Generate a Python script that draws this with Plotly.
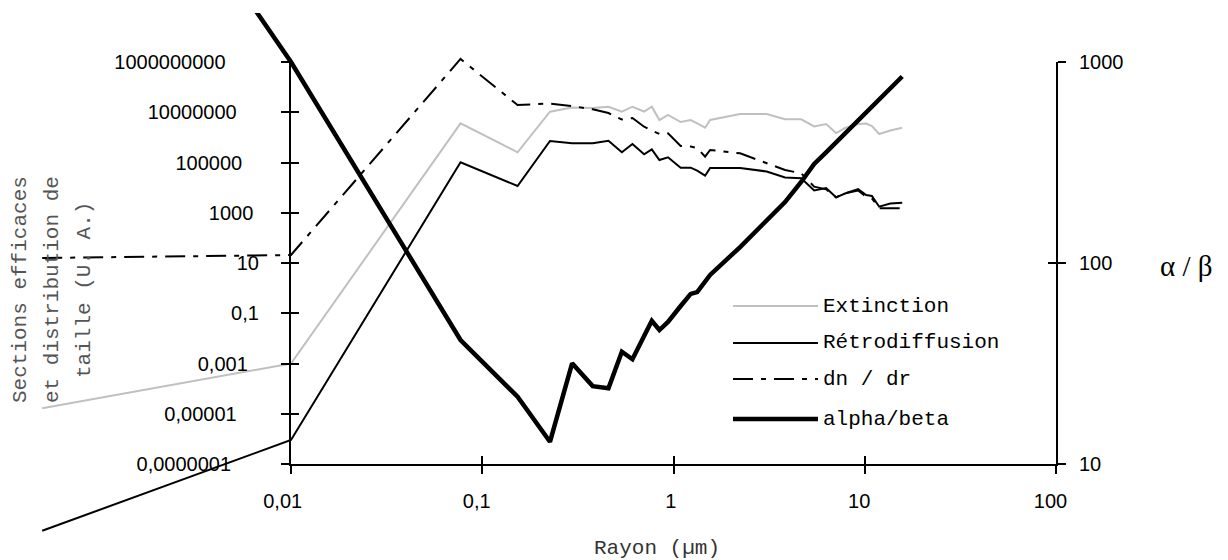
import plotly.graph_objects as go

# Rayon (µm) shared by all series
rayon = [0.0005, 0.01, 0.077, 0.153, 0.226, 0.295, 0.378, 0.457, 0.537, 0.61,
         0.702, 0.77, 0.844, 0.936, 1.09, 1.23, 1.33, 1.463, 1.554, 2.23,
         3.07, 3.83, 4.65, 5.44, 6.28, 7.08, 7.89, 9.23, 10.17, 10.9,
         11.9, 13.6, 15.7]

extinction = [1.65e-5, 1e-3, 3.63e6, 2.55e5, 1.05e7, 1.55e7, 1.48e7, 1.66e7, 1.05e7, 1.66e7,
              1.07e7, 1.66e7, 4.91e6, 7.78e6, 4.09e6, 4.91e6, 3.63e6, 2.43e6, 4.91e6, 8.51e6,
              8.51e6, 5.24e6, 5.24e6, 2.71e6, 3.41e6, 1.49e6, 2.36e6, 3.41e6, 3.56e6, 2.84e6,
              1.36e6, 1.88e6, 2.43e6]

retrodiffusion = [2.2e-10, 9.0e-7, 1.02e5, 1.16e4, 7.18e5, 5.81e5, 5.81e5, 7.38e5, 2.55e5, 5.45e5,
                  2.12e5, 3.35e5, 1.26e5, 1.61e5, 6.21e4, 6.21e4, 4.72e4, 2.98e4, 6.04e4, 6.04e4,
                  4.39e4, 2.53e4, 2.35e4, 7.69e3, 9.66e3, 4.12e3, 5.83e3, 8.81e3, 5.08e3, 4.64e3,
                  1.74e3, 2.33e3, 2.51e3]

dn_dr = [15.8, 20.8, 1.32e9, 1.94e7, 2.23e7, 1.77e7, 1.31e7, 9.33e6, 5.14e6, 5.90e6,
         2.66e6, 1.97e6, 1.36e6, 1.45e6, 4.54e5, 4.34e5, 3.78e5, 1.70e5, 3.15e5, 2.32e5,
         9.29e4, 5.02e4, 3.72e4, 1.09e4, 8.57e3, 4.12e3, 5.94e3, 7.69e3, 4.35e3, 3.76e3,
         1.50e3, 1.50e3, 1.50e3]

alpha_beta = [6.3e4, 1000, 41.4, 21.6, 12.9, 31.7, 24.4, 23.8, 36.2, 33.2,
              43.3, 51.6, 46.4, 50.9, 61.1, 70.2, 71.7, 81.4, 87.2, 120,
              164, 201, 253, 311, 355, 398, 442, 512, 561, 601,
              652, 739, 847]

x_ticks = [0.01, 0.1, 1, 10, 100]
x_labels = ["0,01", "0,1", "1", "10", "100"]
left_ticks = [1e-7, 1e-5, 1e-3, 0.1, 10, 1000, 1e5, 1e7, 1e9]
left_labels = ["0,0000001", "0,00001", "0,001", "0,1", "10", "1000",
               "100000", "10000000", "1000000000"]
right_ticks = [10, 100, 1000]
right_labels = ["10", "100", "1000"]

# page geometry (px); the page body has an 8px margin, so the figure starts at (8, 8)
PAGE_W, PAGE_H = 1228, 560
OFF = 8
FW, FH = PAGE_W - OFF, PAGE_H - OFF
X0, X1 = 291, 1056      # 0.01 and 100
YB, YT = 464, 62        # bottom and top of the frame
CLIP_TOP = 13

dx = (X1 - X0) / 4
dyl = (YB - YT) / 16
dyr = (YB - YT) / 2

SANS = "Liberation Sans, Arial, sans-serif"
MONO = "Liberation Mono, Courier New, monospace"
SERIF = "Liberation Serif, Times New Roman, serif"


def px(x):
    return (x - OFF) / FW


def py(y):
    return (PAGE_H - y) / FH


def pad(s):
    # Excel-like label placement: shift labels by their length
    return s + "\u00a0" * round(len(s) * 4.5 / 5.56)


series = [
    ("Extinction", extinction, "#c0c0c0", 2, "solid", "y"),
    ("Rétrodiffusion", retrodiffusion, "black", 2, "solid", "y"),
    ("dn / dr", dn_dr, "black", 2, "20px,8px,5px,8px", "y"),
    ("alpha/beta", alpha_beta, "black", 4.5, "solid", "y3"),
]

fig = go.Figure()
for name, vals, color, width, dash, yax in series:
    fig.add_trace(go.Scatter(x=rayon, y=vals, name=name, mode="lines",
                             line=dict(color=color, width=width, dash=dash),
                             xaxis="x", yaxis=yax, showlegend=False))

# empty traces so that the frame axes get drawn
for xa, ya in [("x2", "y2"), ("x3", "y2"), ("x2", "y4"), ("x2", "y5"), ("x2", "y6")]:
    fig.add_trace(go.Scatter(x=[], y=[], xaxis=xa, yaxis=ya, showlegend=False,
                             hoverinfo="skip"))

frame_x = dict(type="log", range=[-2, 2], domain=[px(X0), px(X1)], anchor="y2",
               showgrid=False, zeroline=False, tickvals=x_ticks, automargin=False,
               ticklen=8, tickwidth=2, tickcolor="black")
frame_yl = dict(type="log", range=[-7, 9], domain=[py(YB), py(YT)], anchor="x2",
                showgrid=False, zeroline=False, tickvals=left_ticks, automargin=False,
                ticklen=8, tickwidth=2, tickcolor="black")
frame_yr = dict(type="log", range=[1, 3], anchor="x2", overlaying="y2", side="right",
                showgrid=False, zeroline=False, tickvals=right_ticks, automargin=False,
                ticklen=8, tickwidth=2, tickcolor="black")

fig.update_layout(
    width=FW, height=FH, autosize=False,
    margin=dict(l=0, r=0, t=0, b=0, pad=0, autoexpand=False),
    paper_bgcolor="white", plot_bgcolor="rgba(0,0,0,0)",
    showlegend=False,
    # data axes span the whole figure so the lines can leave the frame
    xaxis=dict(type="log", visible=False, domain=[0, 1], automargin=False,
               range=[-2 - (X0 - OFF) / dx, 2 + (PAGE_W - X1) / dx]),
    yaxis=dict(type="log", visible=False, domain=[0, py(CLIP_TOP)], automargin=False,
               range=[-7 - (PAGE_H - YB) / dyl, 9 + (YT - CLIP_TOP) / dyl]),
    yaxis3=dict(type="log", visible=False, overlaying="y", automargin=False,
                range=[1 - (PAGE_H - YB) / dyr, 3 + (YT - CLIP_TOP) / dyr]),
    # visible frame, ticks crossing the axis lines
    xaxis2=dict(frame_x, ticks="outside", showline=True, linecolor="black", linewidth=2,
                ticktext=[pad(t) for t in x_labels], ticklabelstandoff=10,
                tickfont=dict(family=SANS, size=20, color="black")),
    xaxis3=dict(frame_x, overlaying="x2", ticks="inside", showticklabels=False),
    yaxis2=dict(frame_yl, ticks="outside", showline=True, linecolor="black", linewidth=2,
                ticktext=[pad(t) for t in left_labels], ticklabelstandoff=7,
                tickfont=dict(family=SANS, size=20, color="black")),
    yaxis5=dict(frame_yl, overlaying="y2", ticks="inside", showticklabels=False),
    yaxis4=dict(frame_yr, ticks="outside", showline=True, linecolor="black", linewidth=2,
                ticktext=right_labels, ticklabelstandoff=9,
                tickfont=dict(family=SANS, size=20, color="black")),
    yaxis6=dict(frame_yr, ticks="inside", showticklabels=False),
)

# axis titles
title_lines = ["Sections efficaces", "et distribution de", "taille (U. A.)"]
for i, line in enumerate(title_lines):
    fig.add_annotation(text=line, xref="paper", yref="paper",
                       x=px(20 + 32 * i), y=py(290),
                       xanchor="center", yanchor="middle", textangle=-90, showarrow=False,
                       font=dict(family=MONO, size=21, color="#555"))
fig.add_annotation(text="Rayon (µm)", xref="paper", yref="paper",
                   x=px(657), y=py(548), xanchor="center", yanchor="middle",
                   showarrow=False, font=dict(family=MONO, size=21, color="#333"))
fig.add_annotation(text="α / β", xref="paper", yref="paper",
                   x=px(1186), y=py(266), xanchor="center", yanchor="middle",
                   showarrow=False, font=dict(family=SERIF, size=29, color="black"))

# legend drawn inside the frame
legend_rows = [306, 343, 379, 419]
for (name, vals, color, width, dash, yax), row in zip(series, legend_rows):
    fig.add_shape(type="line", xref="paper", yref="paper",
                  x0=px(733), x1=px(818), y0=py(row), y1=py(row),
                  line=dict(color=color, width=width, dash=dash))
    fig.add_annotation(text=name, xref="paper", yref="paper", x=px(821), y=py(row),
                       xanchor="left", yanchor="middle", showarrow=False,
                       font=dict(family=MONO, size=21, color="black"))

fig.write_html("out.html")
